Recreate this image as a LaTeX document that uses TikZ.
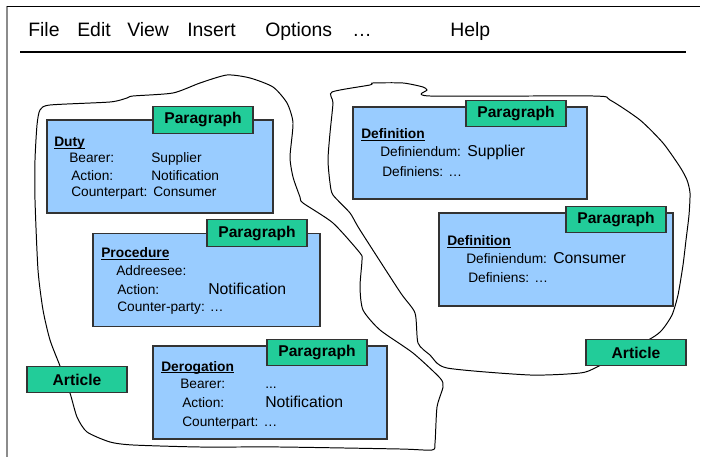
\documentclass[tikz,border=0pt]{standalone}
\usepackage{fontspec}
\setmainfont{Liberation Sans}
\usetikzlibrary{positioning}
\definecolor{parablue}{RGB}{153,204,255}
\definecolor{taggreen}{RGB}{34,204,153}
\definecolor{boxline}{RGB}{51,51,51}
\definecolor{framegray}{RGB}{140,140,140}
\newcommand{\ulhead}[1]{\setbox0=\hbox{#1}\rlap{\rule[-1.5pt]{\wd0}{0.6pt}}\box0}

\begin{document}
\begin{tikzpicture}[x=0.025cm,y=-0.025cm]
    \tikzset{
        parabox/.style = {draw=boxline, fill=parablue, line width=0.8pt, minimum height=2.325cm, inner sep=0pt},
        tagbox/.style = {draw=boxline, fill=taggreen, line width=0.8pt, minimum width=2.5cm, minimum height=0.67cm, inner sep=0pt, font=\fontsize{11.1}{13}\selectfont\bfseries},
        txt/.style = {anchor=base west, inner sep=0pt, font=\fontsize{9.75}{12}\selectfont},
        bigtxt/.style = {anchor=base west, inner sep=0pt, font=\fontsize{11.2}{13}\selectfont},
        head/.style = {anchor=base west, inner sep=0pt, font=\fontsize{9.8}{12}\selectfont\bfseries},
        menu/.style = {anchor=base west, inner sep=0pt, font=\fontsize{13.8}{16}\selectfont},
        blob/.style = {draw, line width=0.7pt}
    }
    \useasboundingbox (0,0) rectangle (707,457);
    % window
    \draw[framegray, line width=1.4pt] (7,6) -- (7,457);
    \draw[line width=0.7pt] (7,6) -- (700,6);
    \node[menu] (mFile) at (28,37) {File};
    \node[menu] (mEdit) at (77,37) {Edit};
    \node[menu] (mView) at (127,37) {View};
    \node[menu] (mInsert) at (187,37) {Insert};
    \node[menu] (mOptions) at (265,37) {Options};
    \node[menu] (mDots) at (352,37) {…};
    \node[menu] (mHelp) at (450,37) {Help};
    \draw[line width=0.8pt] (20,52) -- (686,52);
    % articles
    \draw[blob] plot[smooth cycle, tension=0.4] coordinates {
        (60,366) (50,340) (43,310) (38,270) (35,200) (35,160) (37,125) (40,110)
        (50,105) (110,102) (127,98) (133,96) (173,93) (200,83) (227,75) (250,78)
        (273,87) (287,103) (293,123) (290,157) (293,177) (300,197) (303,203)
        (333,223) (360,253) (362,260) (360,287) (363,310) (380,330) (413,353)
        (440,378) (443,387) (437,407) (435,443) (432,450) (400,449) (280,447)
        (200,447) (133,445) (110,442) (87,432) (77,417) (70,393)};
    \draw[blob] plot[smooth cycle, tension=0.4] coordinates {
        (332,92) (370,85) (373,83) (403,83) (423,87) (427,90) (430,96) (593,96)
        (610,100) (640,120) (663,143) (680,167) (687,180) (690,193) (689,215)
        (686,240) (683,265) (678,295) (672,315) (662,330) (650,339) (597,367)
        (580,373) (530,375) (447,368) (430,355) (418,343) (415,313) (400,292)
        (360,230) (350,213) (333,195) (330,183) (328,160) (330,133) (333,103)};
    \node[tagbox] (artLeft) at (77,379.5) {Article};
    \node[tagbox] (artRight) at (636,352.5) {Article};
    % paragraphs
    \node[parabox, minimum width=5.65cm] (duty) at (160,166.5) {};
    \node[tagbox] (dutyTag) at (203,120) {Paragraph};
    \node[head] (dutyHead) at (54,147) {\ulhead{Duty}};
    \node[txt] (dutyL1) at (69,163) {Bearer:};
    \node[txt] (dutyV1) at (151,163) {Supplier};
    \node[txt] (dutyL2) at (71,181) {Action:};
    \node[txt] (dutyV2) at (151,181) {Notification};
    \node[txt] (dutyL3) at (71,197) {Counterpart:};
    \node[txt] (dutyV3) at (153,197) {Consumer};

    \node[parabox, minimum width=5.675cm] (proc) at (206.5,280) {};
    \node[tagbox] (procTag) at (257,233) {Paragraph};
    \node[head] (procHead) at (101,258) {\ulhead{Procedure}};
    \node[txt] (procL1) at (116,276) {Addreesee:};
    \node[txt] (procL2) at (117,294) {Action:};
    \node[bigtxt] (procV2) at (208,294) {Notification};
    \node[txt] (procL3) at (117,312) {Counter-party: …};

    \node[parabox, minimum width=5.85cm] (derog) at (270,392.5) {};
    \node[tagbox] (derogTag) at (317,352.5) {Paragraph};
    \node[head] (derogHead) at (161,371) {\ulhead{Derogation}};
    \node[txt] (derogL1) at (180,388) {Bearer:};
    \node[txt] (derogV1) at (265,388) {...};
    \node[txt] (derogL2) at (182,407) {Action:};
    \node[bigtxt] (derogV2) at (265,407) {Notification};
    \node[txt] (derogL3) at (182,426) {Counterpart: …};

    \node[parabox, minimum width=5.85cm, minimum height=2.3cm] (defA) at (470,153) {};
    \node[tagbox] (defATag) at (516,113.5) {Paragraph};
    \node[head] (defAHead) at (361,139) {\ulhead{Definition}};
    \node[txt] (defAL1) at (380,157) {Definiendum:};
    \node[bigtxt] (defAV1) at (467,157) {Supplier};
    \node[txt] (defAL2) at (382,177) {Definiens: …};

    \node[parabox, minimum width=5.85cm] (defB) at (556,259.5) {};
    \node[tagbox] (defBTag) at (616,219.5) {Paragraph};
    \node[head] (defBHead) at (447,246) {\ulhead{Definition}};
    \node[txt] (defBL1) at (466,264) {Definiendum:};
    \node[bigtxt] (defBV1) at (553,264) {Consumer};
    \node[txt] (defBL2) at (468,283) {Definiens: …};
\end{tikzpicture}
\end{document}
